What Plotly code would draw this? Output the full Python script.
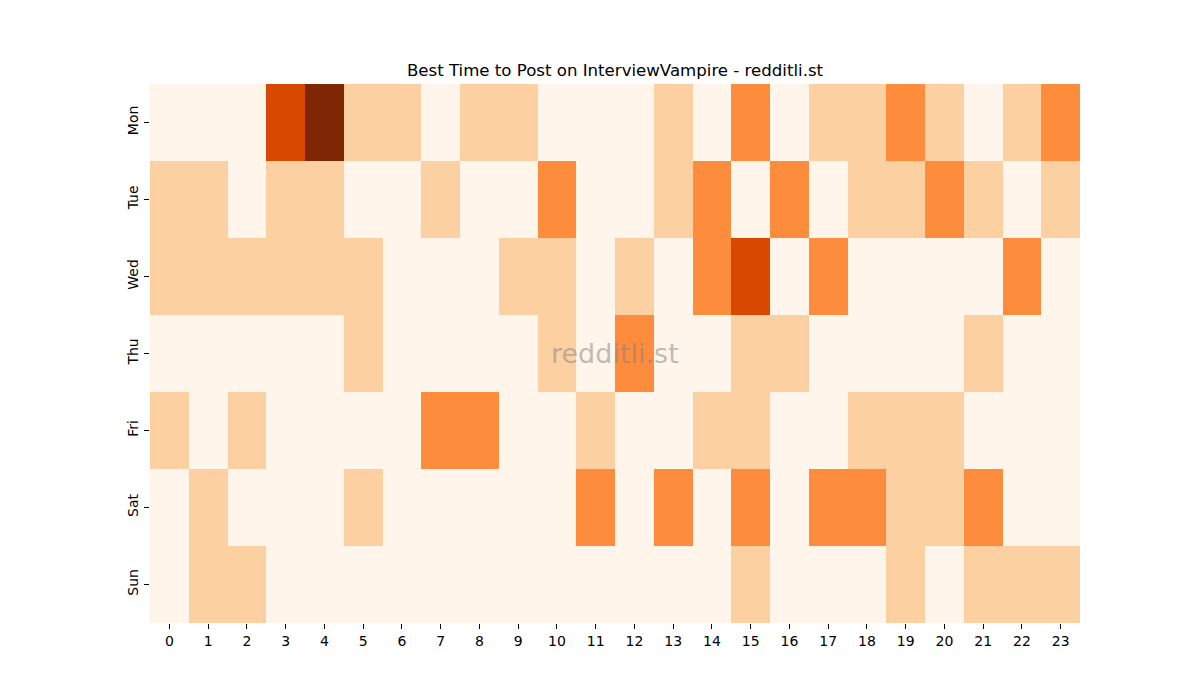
import plotly.graph_objects as go

days = ["Mon", "Tue", "Wed", "Thu", "Fri", "Sat", "Sun"]
hours = list(range(24))

mon = [0, 0, 0, 3, 4, 1, 1, 0, 1, 1, 0, 0, 0, 1, 0, 2, 0, 1, 1, 2, 1, 0, 1, 2]
tue = [1, 1, 0, 1, 1, 0, 0, 1, 0, 0, 2, 0, 0, 1, 2, 0, 2, 0, 1, 1, 2, 1, 0, 1]
wed = [1, 1, 1, 1, 1, 1, 0, 0, 0, 1, 1, 0, 1, 0, 2, 3, 0, 2, 0, 0, 0, 0, 2, 0]
thu = [0, 0, 0, 0, 0, 1, 0, 0, 0, 0, 1, 0, 2, 0, 0, 1, 1, 0, 0, 0, 0, 1, 0, 0]
fri = [1, 0, 1, 0, 0, 0, 0, 2, 2, 0, 0, 1, 0, 0, 1, 1, 0, 0, 1, 1, 1, 0, 0, 0]
sat = [0, 1, 0, 0, 0, 1, 0, 0, 0, 0, 0, 2, 0, 2, 0, 2, 0, 2, 2, 1, 1, 2, 0, 0]
sun = [0, 1, 1, 0, 0, 0, 0, 0, 0, 0, 0, 0, 0, 0, 0, 1, 0, 0, 0, 1, 0, 1, 1, 1]

z = [mon, tue, wed, thu, fri, sat, sun]

colorscale = [
    [0.0, "#fff5eb"],
    [0.125, "#fff5eb"],
    [0.125, "#fdd0a2"],
    [0.375, "#fdd0a2"],
    [0.375, "#fd8d3c"],
    [0.625, "#fd8d3c"],
    [0.625, "#d94801"],
    [0.875, "#d94801"],
    [0.875, "#7f2704"],
    [1.0, "#7f2704"],
]

fig = go.Figure(
    go.Heatmap(
        z=z,
        x=hours,
        y=days,
        colorscale=colorscale,
        zmin=0,
        zmax=4,
        showscale=False,
        xgap=0,
        ygap=0,
    )
)

font = "DejaVu Sans"
fig.update_layout(
    width=1200,
    height=700,
    margin=dict(l=142, r=128, t=76, b=85),
    paper_bgcolor="white",
    plot_bgcolor="white",
    font=dict(family=font, size=14, color="black"),
    title=dict(
        text="Best Time to Post on InterviewVampire - redditli.st",
        x=607 / 1200,
        xanchor="center",
        y=1 - 62 / 700,
        yanchor="middle",
        font=dict(family=font, size=16.6, color="black"),
    ),
    xaxis=dict(
        tickmode="array",
        tickvals=hours,
        ticktext=[str(h) for h in hours],
        ticks="outside",
        ticklen=5,
        tickcolor="black",
        showgrid=False,
        zeroline=False,
        showline=False,
        tickangle=0,
    ),
    yaxis=dict(
        autorange="reversed",
        ticks="outside",
        ticklen=5,
        tickcolor="black",
        tickangle=-90,
        showgrid=False,
        zeroline=False,
        showline=False,
    ),
    annotations=[
        dict(
            text="redditli.st",
            x=0.5,
            y=0.5,
            xref="paper",
            yref="paper",
            showarrow=False,
            font=dict(family=font, size=27, color="rgba(128,128,128,0.5)"),
        )
    ],
)

fig.write_html("out.html")
